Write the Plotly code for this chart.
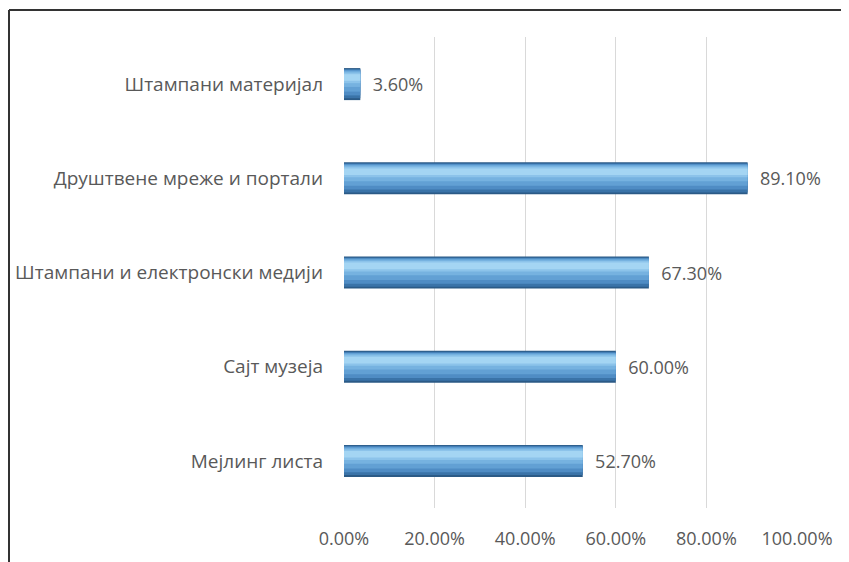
import plotly.graph_objects as go

categories = ["Мејлинг листа", "Сајт музеја", "Штампани и електронски медији",
              "Друштвене мреже и портали", "Штампани материјал"]
values = [0.527, 0.600, 0.673, 0.891, 0.036]
tick_vals = [0, 0.2, 0.4, 0.6, 0.8, 1.0]

# page body has an 8px default margin; the figure is sized to sit inside it
BODY = 8
W, H = 849 - BODY, 562 - BODY
ML, MR, MT, MB = 344 - BODY, 52, 37 - BODY, 54
PW, PH = W - ML - MR, H - MT - MB

fig = go.Figure()
# layered bars to imitate the cylinder shading (lo, hi in category units, colour)
layers = [
    (-0.170, 0.170, "#2b5a86"),
    (-0.150, 0.160, "#3a73a8"),
    (-0.120, 0.152, "#4f8cc4"),
    (-0.080, 0.145, "#62a0d4"),
    (-0.030, 0.135, "#76b2e0"),
    (0.010, 0.122, "#8cc3ea"),
    (0.035, 0.105, "#a4d5f3"),
]
for i, (lo, hi, col) in enumerate(layers):
    fig.add_trace(go.Bar(
        y=categories, x=values, orientation="h",
        width=hi - lo, offset=lo,
        marker=dict(color=col, line=dict(width=0)),
        texttemplate="  %{x:.2%}" if i == 0 else None,
        textposition="outside" if i == 0 else "none",
        textfont=dict(family="Open Sans, Noto Sans, sans-serif", size=18, color="#595959"),
        constraintext="none",
        cliponaxis=False,
        hoverinfo="skip",
        showlegend=False,
    ))

fig.update_layout(
    width=W, height=H,
    margin=dict(l=ML, r=MR, t=MT, b=MB, autoexpand=False),
    paper_bgcolor="white", plot_bgcolor="white",
    barmode="overlay",
    font=dict(family="Open Sans, Noto Sans, sans-serif", size=18, color="#595959"),
    xaxis=dict(range=[0, 1.0], tickvals=tick_vals, tickformat=".2%",
               showgrid=True, gridcolor="#d9d9d9", gridwidth=1,
               zeroline=False, showline=False, ticks="",
               ticklabelstandoff=18, automargin=False,
               tickfont=dict(size=18, color="#595959")),
    yaxis=dict(categoryorder="array", categoryarray=categories,
               showgrid=False, showline=False, ticks="", ticklabelstandoff=20,
               automargin=False,
               tickfont=dict(size=19, color="#595959"), range=[-0.5, 4.5]),
)

# chart frame (top and left edges visible); page pixel -> paper coords
def px_x(px):
    return (px - BODY - ML) / PW

def px_y(py):
    return (H - MB - (py - BODY)) / PH

fig.add_shape(type="line", xref="paper", yref="paper",
              x0=px_x(9), x1=px_x(860), y0=px_y(10), y1=px_y(10),
              line=dict(color="#333333", width=2))
fig.add_shape(type="line", xref="paper", yref="paper",
              x0=px_x(9), x1=px_x(9), y0=px_y(10), y1=px_y(580),
              line=dict(color="#333333", width=2))

fig.write_html("out.html")
